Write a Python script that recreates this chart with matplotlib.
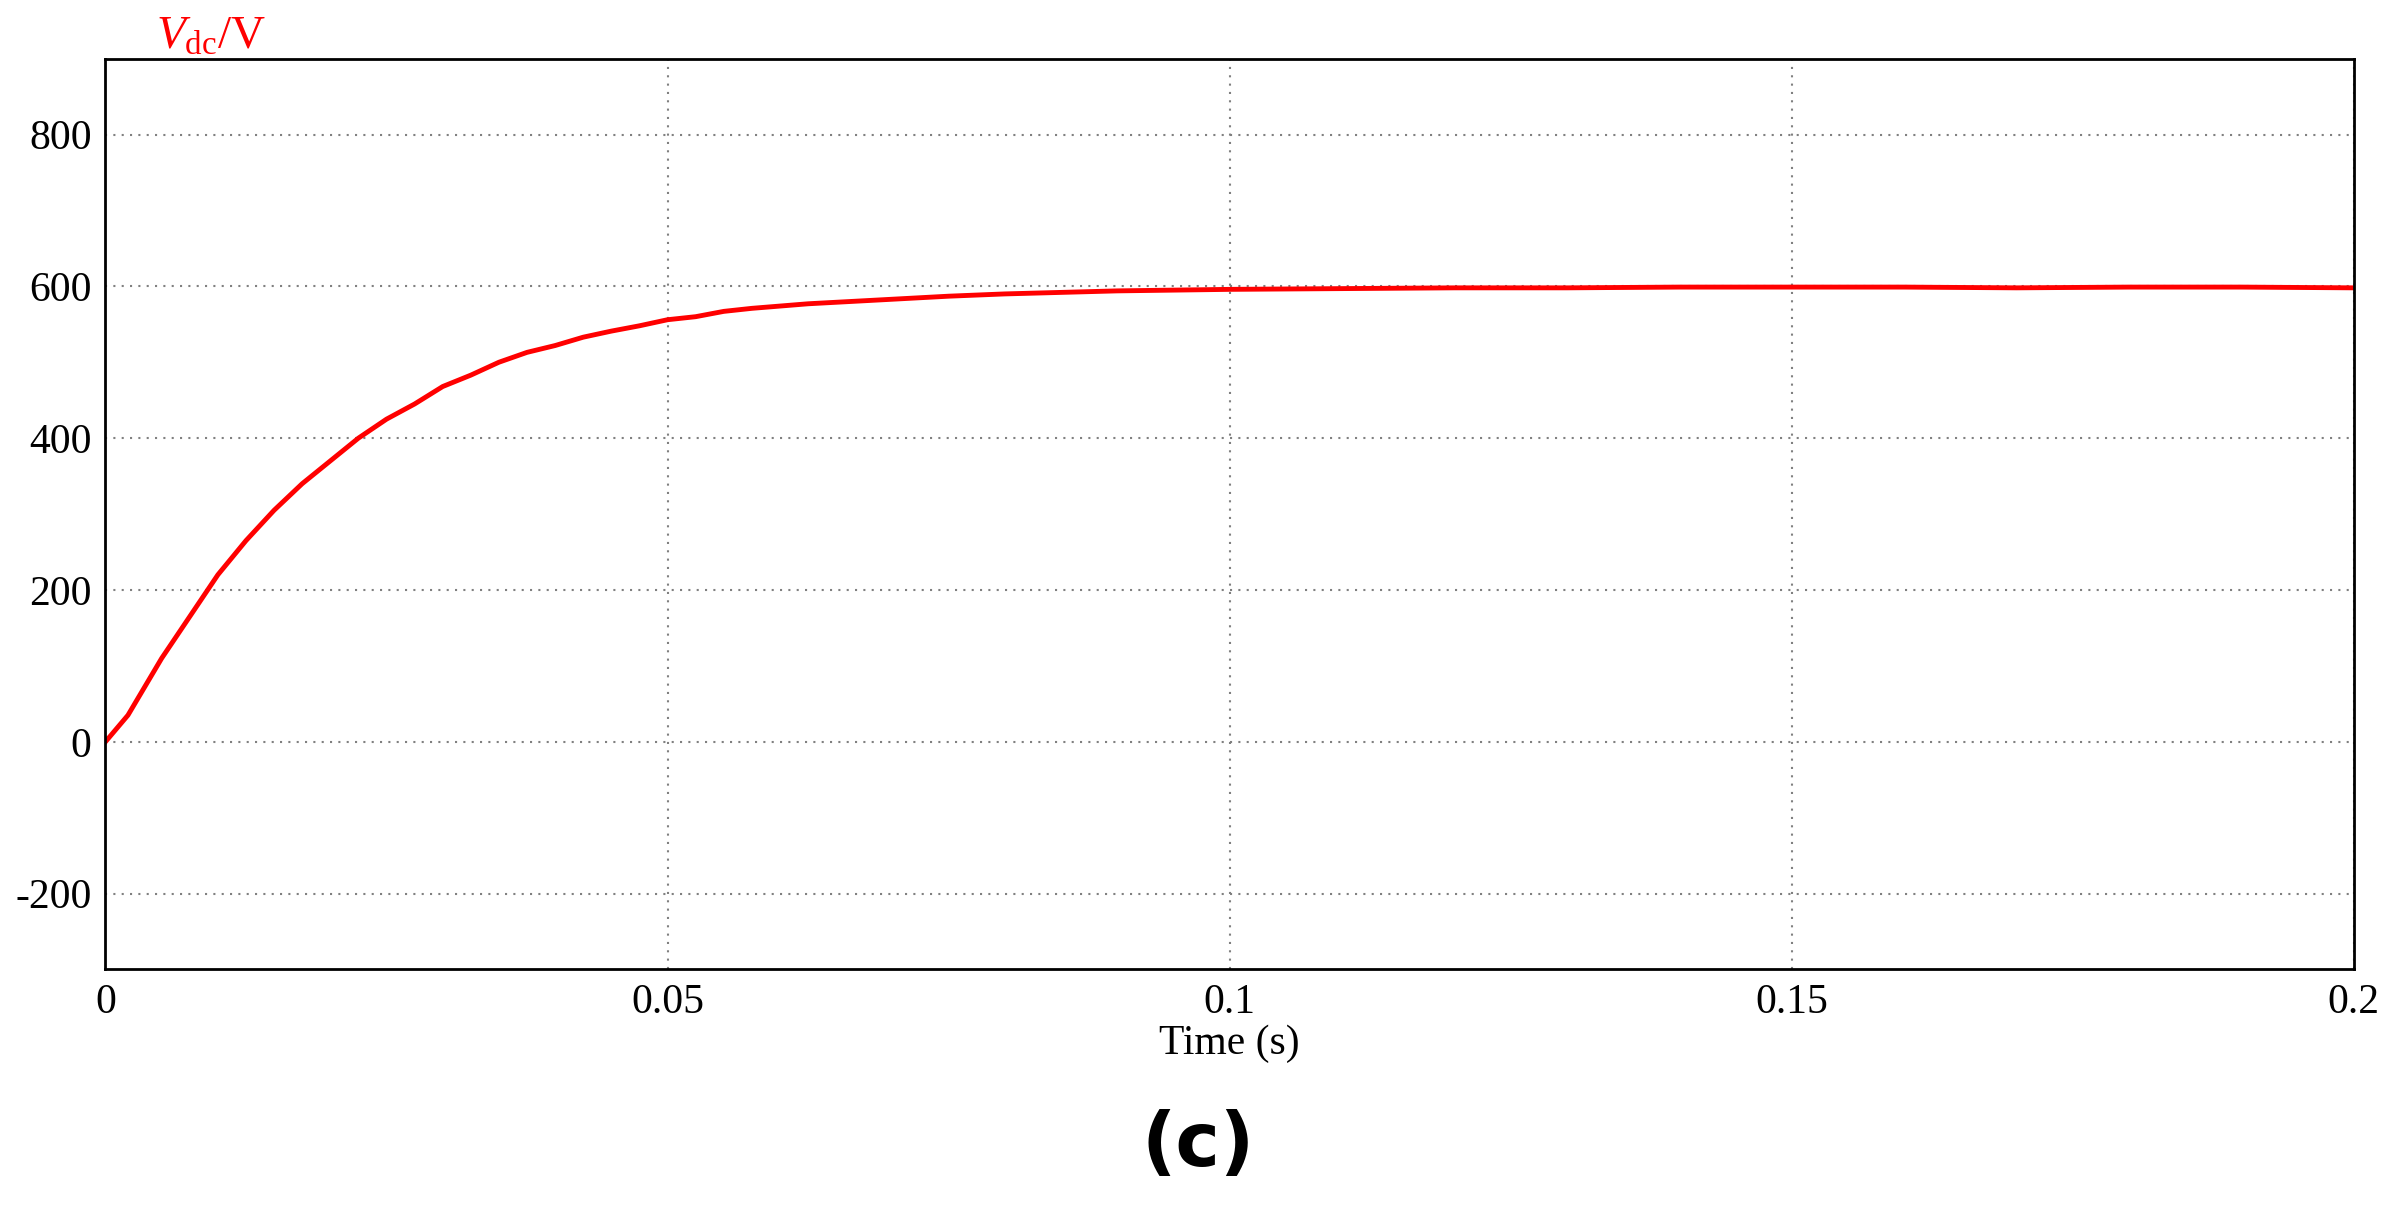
import numpy as np
import matplotlib
matplotlib.use("Agg")
import matplotlib.pyplot as plt

plt.rcParams.update({
    "font.family": ["Liberation Serif", "DejaVu Serif"],
    "mathtext.fontset": "custom",
    "mathtext.rm": "Liberation Serif",
    "mathtext.it": "Liberation Serif:italic",
    "axes.unicode_minus": False,
})

# Vdc trace
t_s = [0, 0.002, 0.005, 0.0075, 0.01, 0.0125, 0.015, 0.0175, 0.02, 0.0225, 0.025, 0.0275,
       0.03, 0.0325, 0.035, 0.0375, 0.04, 0.0425, 0.045, 0.0475, 0.05, 0.0525, 0.055,
       0.0575, 0.06, 0.0625, 0.065, 0.0675, 0.07, 0.0725, 0.075, 0.08, 0.085, 0.09,
       0.095, 0.1, 0.11, 0.12, 0.13, 0.14, 0.15, 0.16, 0.17, 0.18, 0.19, 0.2]
vdc = [0, 35, 110, 165, 220, 265, 305, 340, 370, 400, 425, 445, 468, 483, 500, 513,
       522, 533, 541, 548, 556, 560, 567, 571, 574, 577, 579, 581, 583, 585, 587, 590,
       592, 594, 595, 596, 597, 598, 598, 599, 599, 599, 598, 599, 599, 598]

xticks = [0, 0.05, 0.1, 0.15, 0.2]
xticklabels = ["0", "0.05", "0.1", "0.15", "0.2"]
yticks = [-200, 0, 200, 400, 600, 800]

fig = plt.figure(figsize=(23.97, 12.21), dpi=100)
ax = fig.add_axes([0.044, 0.206, 0.938, 0.746])
ax.plot(t_s, vdc, color="red", linewidth=3.5)
ax.set_xlim(0, 0.2)
ax.set_ylim(-300, 900)
ax.set_xticks(xticks)
ax.set_xticklabels(xticklabels)
ax.set_yticks(yticks)
ax.set_yticklabels([str(v) for v in yticks])
ax.tick_params(labelsize=30, length=0, pad=10)
ax.grid(True, linestyle=(0, (1, 3)), color="gray", linewidth=1.5)
for s in ax.spines.values():
    s.set_linewidth(2)
ax.set_xlabel("Time (s)", fontsize=30, labelpad=2)
fig.text(0.065, 0.952, r"$V_{\mathrm{dc}}$/V", color="red", fontsize=34, va="bottom")
fig.text(0.5, 0.045, "(c)", fontsize=54, fontweight="bold", ha="center",
         family=["DejaVu Sans"])
fig.savefig("out.png", dpi=100)
